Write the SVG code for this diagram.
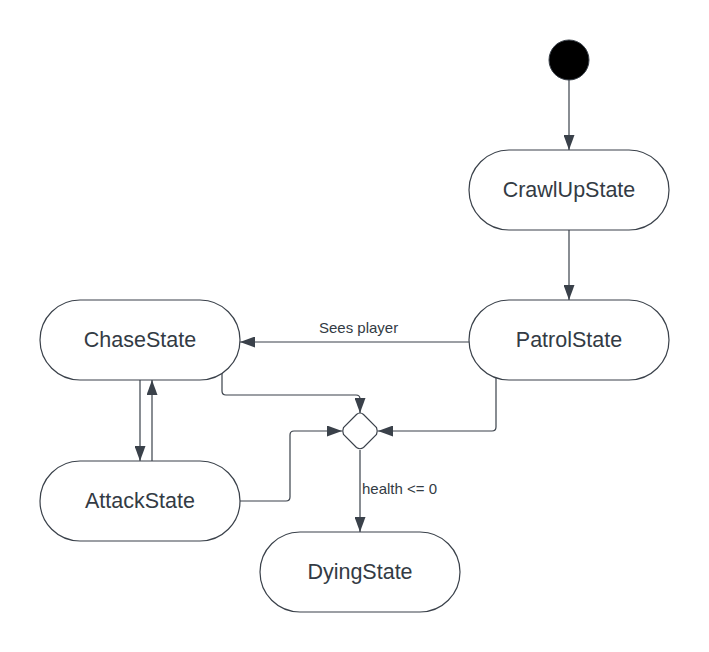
<svg xmlns="http://www.w3.org/2000/svg" width="709" height="652" viewBox="0 0 709 652">
<style>
.state{fill:#fff;stroke:#3a414a;stroke-width:1.2}
.name{font-family:"Liberation Sans",Arial,sans-serif;font-size:21.5px;fill:#333b44;text-anchor:middle}
.lbl{font-family:"Liberation Sans",Arial,sans-serif;font-size:15px;fill:#333b44}
.edge{fill:none;stroke:#3a414a;stroke-width:1.2;marker-end:url(#ah)}
</style>
<defs>
<marker id="ah" viewBox="0 0 15 11" refX="15" refY="5.5" markerWidth="15" markerHeight="11" markerUnits="userSpaceOnUse" orient="auto">
<path d="M0,0 L15,5.5 L0,11 Z" fill="#3a414a"/>
</marker>
</defs>
<rect width="709" height="652" fill="#fff"/>
<g id="connectors">
<path class="edge" d="M569,80 V150"/>
<path class="edge" d="M569,230 V300"/>
<path class="edge" d="M469,342 H240"/>
<path class="edge" d="M222,373 V391 Q222,395 226,395 H356 Q360,395 360,399 V413"/>
<path class="edge" d="M140,380 V461"/>
<path class="edge" d="M152,461 V380"/>
<path class="edge" d="M240,501 H286 Q290,501 290,497 V435 Q290,431 294,431 H342"/>
<path class="edge" d="M496,378 V427 Q496,431 492,431 H378"/>
<path class="edge" d="M360,450 V532"/>
<text class="lbl" x="319" y="333">Sees player</text>
<text class="lbl" x="362" y="494">health &lt;= 0</text>
</g>
<g id="start"><circle cx="569" cy="60" r="20" fill="#000" stroke="#3a414a" stroke-width="1"/></g>
<g id="crawlup"><rect class="state" x="469" y="150" width="200" height="80" rx="40"/><text class="name" x="569" y="197">CrawlUpState</text></g>
<g id="patrol"><rect class="state" x="469" y="300" width="200" height="80" rx="40"/><text class="name" x="569" y="347">PatrolState</text></g>
<g id="chase"><rect class="state" x="40" y="300" width="200" height="80" rx="40"/><text class="name" x="140" y="347">ChaseState</text></g>
<g id="attack"><rect class="state" x="40" y="461" width="200" height="80" rx="40"/><text class="name" x="140" y="508">AttackState</text></g>
<g id="dying"><rect class="state" x="260" y="532" width="200" height="80" rx="40"/><text class="name" x="360" y="579">DyingState</text></g>
<g id="decision"><path class="state" d="M360,413 Q362,413 363.5,414.5 L376.5,427.5 Q378,431 376.5,434.5 L363.5,447.5 Q360,450 356.5,447.5 L343.5,434.5 Q342,431 343.5,427.5 L356.5,414.5 Q358,413 360,413 Z"/></g>
</svg>
